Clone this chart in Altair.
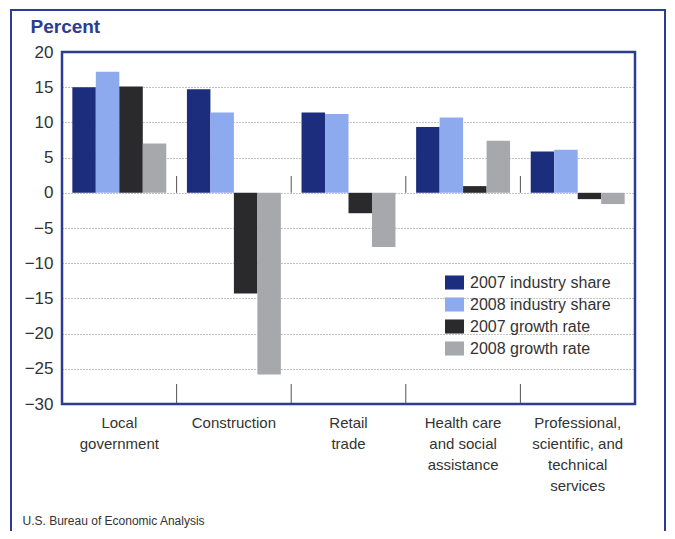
import altair as alt
import pandas as pd

categories = ["Local|government", "Construction", "Retail|trade",
              "Health care|and social|assistance",
              "Professional,|scientific, and|technical|services"]
series = ["2007 industry share", "2008 industry share", "2007 growth rate", "2008 growth rate"]
share_2007 = [15.0, 14.7, 11.4, 9.35, 5.85]
share_2008 = [17.2, 11.4, 11.2, 10.7, 6.1]
growth_2007 = [15.1, -14.3, -2.9, 0.95, -0.9]
growth_2008 = [7.0, -25.8, -7.7, 7.4, -1.6]
y_ticks = [-30, -25, -20, -15, -10, -5, 0, 5, 10, 15, 20]
colors = ["#1d2d7d", "#8eaaef", "#2a2a2c", "#a6a8ac"]

rows = []
for i, c in enumerate(categories):
    for s, vals in zip(series, [share_2007, share_2008, growth_2007, growth_2008]):
        rows.append({"cat": c, "series": s, "value": vals[i]})
df = pd.DataFrame(rows)
bounds = pd.DataFrame({"cat": categories[1:]})

W, H = 573, 352
BLUE = "#2b3c92"
FONT = "Liberation Sans"

xscale = alt.Scale(domain=categories, paddingInner=0, paddingOuter=0)
yscale = alt.Scale(domain=[-30, 20], nice=False)

xaxis = alt.Axis(title="U.S. Bureau of Economic Analysis", labelAngle=0,
                 labelExpr="split(datum.value, '|')", labelFontSize=15,
                 labelLineHeight=21, labelPadding=11, labelColor="#333",
                 labelFont=FONT, ticks=False, domain=False,
                 titleX=-40, titleY=120, titleAlign="left", titleAnchor="start",
                 titleBaseline="alphabetic", titleFontSize=12,
                 titleFontWeight="normal", titleColor="#333", titleFont=FONT)
yaxis = alt.Axis(title="Percent", values=y_ticks, labelOverlap=False,
                 labelFontSize=17, labelColor="#333", labelFont=FONT,
                 labelPadding=9, ticks=False, domain=False,
                 grid=True, gridDash=[1, 2], gridColor="#888", gridWidth=1,
                 titleAngle=0, titleX=-32, titleY=-20, titleAlign="left",
                 titleBaseline="alphabetic", titleFontSize=19,
                 titleFontWeight="bold", titleColor=BLUE, titleFont=FONT)

bars = alt.Chart(df).mark_bar().encode(
    x=alt.X("cat:N", scale=xscale, sort=categories, axis=xaxis),
    xOffset=alt.XOffset("series:N", sort=series,
                        scale=alt.Scale(paddingInner=0, paddingOuter=0.44)),
    y=alt.Y("value:Q", scale=yscale, axis=yaxis),
    color=alt.Color("series:N", sort=series,
                    scale=alt.Scale(domain=series, range=colors),
                    legend=alt.Legend(title=None, orient="none", legendX=383, legendY=221,
                                      symbolType="M-1,-0.74L1,-0.74L1,0.74L-1,0.74Z",
                                      symbolSize=361, symbolStrokeWidth=0,
                                      symbolOpacity=1, labelFontSize=16,
                                      labelColor="#333", labelFont=FONT,
                                      labelOffset=6, rowPadding=4)),
)

ticks_bottom = alt.Chart(bounds).mark_rule(color="#555", strokeWidth=1).encode(
    x=alt.X("cat:N", bandPosition=0, sort=categories, scale=xscale, axis=xaxis),
    y=alt.value(H),
    y2=alt.value(H - 20),
)
ticks_zero = alt.Chart(bounds).mark_rule(color="#555", strokeWidth=1).encode(
    x=alt.X("cat:N", bandPosition=0, sort=categories, scale=xscale, axis=xaxis),
    y=alt.YDatum(0, scale=yscale, axis=yaxis, type="quantitative"),
    y2=alt.value(124),
)

one = pd.DataFrame({"a": [0]})
outer = alt.Chart(one).mark_rect(fill=None, stroke=BLUE, strokeWidth=2).encode(
    x=alt.value(-51), x2=alt.value(603), y=alt.value(-42), y2=alt.value(540))
plotframe = alt.Chart(one).mark_rect(fill=None, stroke=BLUE, strokeWidth=2.5).encode(
    x=alt.value(0), x2=alt.value(W), y=alt.value(0), y2=alt.value(H))

chart = alt.layer(outer, bars, ticks_bottom, ticks_zero, plotframe).properties(
    width=W, height=H,
    autosize=alt.AutoSizeParams(type="none"),
    padding={"left": 54, "top": 44, "right": 32, "bottom": 127},
).configure_view(stroke=None).configure(font=FONT)

chart.save("out.html", embed_options={"renderer": "svg", "actions": False})
